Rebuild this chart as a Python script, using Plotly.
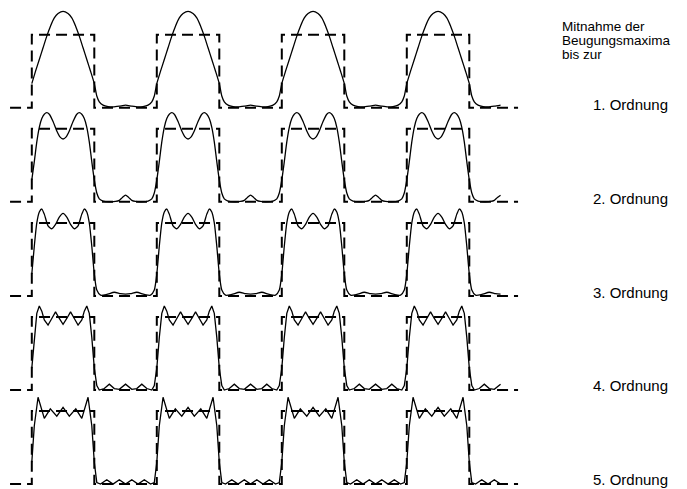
import plotly.graph_objects as go

# One period of each synthesized grating image (phase 0 = rising edge of a slit,
# 0..0.5 = slit, 0.5..1 = bar), relative intensity; the square wave is 0 / 1.
phase_1 = [0.00, 0.03, 0.06, 0.09, 0.12, 0.15, 0.18, 0.21, 0.25, 0.29, 0.32, 0.35, 0.38,
           0.41, 0.44, 0.47, 0.50, 0.52, 0.54, 0.57, 0.61, 0.65, 0.70, 0.75, 0.80, 0.85,
           0.89, 0.93, 0.96, 0.98]
inten_1 = [0.33, 0.50, 0.66, 0.82, 0.98, 1.12, 1.23, 1.29, 1.32, 1.29, 1.23, 1.12, 0.98,
           0.82, 0.66, 0.50, 0.33, 0.16, 0.08, 0.035, 0.015, 0.01, 0.02, 0.035, 0.02, 0.01,
           0.015, 0.035, 0.08, 0.16]

phase_2 = [0.00, 0.02, 0.04, 0.06, 0.08, 0.10, 0.12, 0.14, 0.17, 0.20, 0.225, 0.25, 0.275,
           0.30, 0.33, 0.36, 0.38, 0.40, 0.42, 0.44, 0.46, 0.48, 0.50, 0.52, 0.54, 0.57,
           0.62, 0.67, 0.70, 0.725, 0.75, 0.775, 0.80, 0.83, 0.88, 0.93, 0.96, 0.98]
inten_2 = [0.30, 0.55, 0.82, 1.02, 1.14, 1.20, 1.22, 1.20, 1.10, 0.97, 0.89, 0.86, 0.89,
           0.97, 1.10, 1.20, 1.22, 1.20, 1.14, 1.02, 0.82, 0.55, 0.30, 0.12, 0.04, 0.01,
           0.00, 0.005, 0.02, 0.06, 0.09, 0.06, 0.02, 0.005, 0.00, 0.01, 0.04, 0.12]

phase_3 = [0.00, 0.02, 0.04, 0.06, 0.08, 0.10, 0.13, 0.16, 0.19, 0.22, 0.25, 0.28, 0.31,
           0.34, 0.37, 0.40, 0.42, 0.44, 0.46, 0.48, 0.50, 0.52, 0.55, 0.60, 0.66, 0.71,
           0.75, 0.79, 0.84, 0.90, 0.95, 0.98]
inten_3 = [0.30, 0.68, 1.00, 1.15, 1.19, 1.12, 0.96, 0.92, 0.98, 1.08, 1.13, 1.08, 0.98,
           0.92, 0.96, 1.12, 1.19, 1.15, 1.00, 0.68, 0.30, 0.08, 0.01, 0.02, 0.05, 0.03,
           0.025, 0.03, 0.05, 0.02, 0.01, 0.08]

phase_4 = [0.00, 0.02, 0.04, 0.06, 0.08, 0.10, 0.13, 0.16, 0.19, 0.22, 0.25, 0.28, 0.31,
           0.34, 0.37, 0.40, 0.42, 0.44, 0.46, 0.48, 0.50, 0.52, 0.54, 0.58, 0.62, 0.66,
           0.70, 0.75, 0.80, 0.84, 0.88, 0.92, 0.96, 0.98]
inten_4 = [0.30, 0.72, 1.05, 1.15, 1.08, 0.96, 0.89, 0.98, 1.07, 0.98, 0.90, 0.98, 1.07,
           0.98, 0.89, 0.96, 1.08, 1.15, 1.05, 0.72, 0.30, 0.06, 0.00, 0.02, 0.08, 0.02,
           0.01, 0.08, 0.01, 0.02, 0.08, 0.02, 0.00, 0.06]

phase_5 = [0.00, 0.02, 0.05, 0.10, 0.148, 0.20, 0.25, 0.30, 0.352, 0.40, 0.45, 0.48,
           0.50, 0.52, 0.55, 0.60, 0.65, 0.70, 0.75, 0.80, 0.85, 0.90, 0.95, 0.98]
inten_5 = [0.30, 0.80, 1.19, 0.90, 1.03, 0.93, 1.05, 0.93, 1.03, 0.90, 1.19, 0.80,
           0.30, 0.02, 0.00, 0.06, 0.00, 0.06, 0.00, 0.06, 0.00, 0.06, 0.00, 0.02]

profiles = [(phase_1, inten_1), (phase_2, inten_2), (phase_3, inten_3),
            (phase_4, inten_4), (phase_5, inten_5)]

order_labels = ["1. Ordnung", "2. Ordnung", "3. Ordnung", "4. Ordnung", "5. Ordnung"]
order_baselines = [110.5, 204.5, 299, 392, 485.5]
header_lines = ["Mitnahme der", "Beugungsmaxima", "bis zur"]
header_baselines = [32.4, 46.4, 60.4]

CURVE_END = 3.75          # synthesized image runs from the first slit edge to here
GRATING_START, GRATING_END = -0.174, 3.89
N_SLITS = 4
ROW_STEP = 1.289          # vertical distance between the stacked rows (in intensity units)

W, H = 687, 489
FONT = "Liberation Sans, Arial, sans-serif"
HEADER_SIZE = 13.5
LABEL_SIZE = 15


def tile(phases, values, stop):
    xs, ys = [], []
    k = 0
    while k <= stop:
        for p, v in zip(phases, values):
            t = k + p
            if t <= stop + 1e-9:
                xs.append(t)
                ys.append(v)
        k += 1
    return xs, ys


def grating():
    xs, ys = [GRATING_START], [0]
    for k in range(N_SLITS):
        xs += [k, k, k + 0.5, k + 0.5]
        ys += [0, 1, 1, 0]
    xs.append(GRATING_END)
    ys.append(0)
    return xs, ys


fig = go.Figure()
gx, gy = grating()
for r, (ph, val) in enumerate(profiles):
    off = -ROW_STEP * r
    fig.add_trace(go.Scatter(
        x=gx, y=[v + off for v in gy], mode="lines",
        line=dict(color="black", width=2, dash="11px,6px"),
        hoverinfo="skip", showlegend=False))
    cx, cy = tile(ph, val, CURVE_END)
    fig.add_trace(go.Scatter(
        x=cx, y=[v + off for v in cy], mode="lines",
        line=dict(color="black", width=1.3, shape="spline" if r < 3 else "linear",
                  smoothing=0.6),
        hoverinfo="skip", showlegend=False))


def label(txt, left_px, base_px, size):
    # anchor the text box bottom just under the baseline (descent + border pad)
    bottom = base_px + 0.212 * size + 1
    return dict(text=txt, x=(left_px - 1) / W, y=1 - bottom / H,
                xref="paper", yref="paper", xanchor="left", yanchor="bottom",
                showarrow=False, font=dict(family=FONT, size=size, color="black"))


annotations = [label(t, 561, b, HEADER_SIZE) for t, b in zip(header_lines, header_baselines)]
annotations += [label(t, 592, b, LABEL_SIZE) for t, b in zip(order_labels, order_baselines)]

fig.update_layout(
    width=W, height=H, margin=dict(l=0, r=0, t=0, b=0),
    paper_bgcolor="white", plot_bgcolor="white",
    xaxis=dict(range=[-0.2544, 5.2416], visible=False, fixedrange=True),
    yaxis=dict(range=[-5.223, 1.475], visible=False, fixedrange=True),
    annotations=annotations,
)

fig.write_html("out.html")
